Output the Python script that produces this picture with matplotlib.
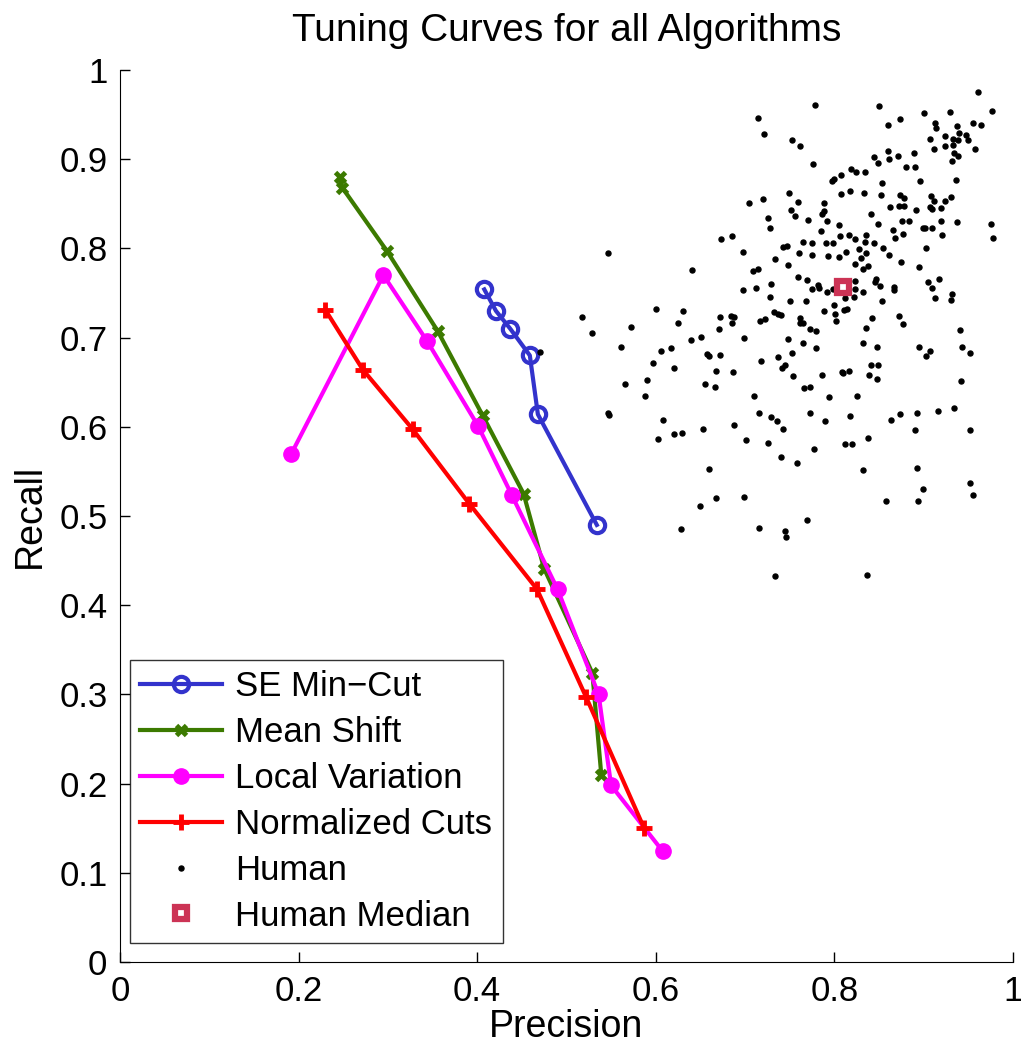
import matplotlib
matplotlib.use("Agg")
import matplotlib.pyplot as plt

plt.rcParams['font.family'] = ['Liberation Sans', 'DejaVu Sans']

# tuning curves (precision, recall)
se_prec = [0.408, 0.421, 0.437, 0.459, 0.468, 0.534]
se_rec = [0.754, 0.730, 0.710, 0.680, 0.614, 0.490]

ms_prec = [0.246, 0.249, 0.299, 0.356, 0.406, 0.452, 0.475, 0.529, 0.539]
ms_rec = [0.880, 0.868, 0.797, 0.707, 0.613, 0.525, 0.441, 0.324, 0.210]

lv_prec = [0.192, 0.295, 0.344, 0.401, 0.439, 0.490, 0.536, 0.550, 0.608]
lv_rec = [0.570, 0.770, 0.696, 0.601, 0.523, 0.418, 0.300, 0.198, 0.124]

nc_prec = [0.230, 0.272, 0.328, 0.391, 0.467, 0.522, 0.587]
nc_rec = [0.731, 0.664, 0.597, 0.514, 0.418, 0.297, 0.150]

median_prec = [0.810]
median_rec = [0.757]

# individual human segmentations
human_prec = [
    0.778, 0.714, 0.721, 0.753, 0.762, 0.776, 0.819, 0.824, 0.808, 0.797,
    0.800, 0.749, 0.808, 0.817, 0.704, 0.720, 0.759, 0.788, 0.751, 0.756,
    0.788, 0.786, 0.726, 0.771, 0.792, 0.728, 0.805, 0.785, 0.673, 0.685,
    0.806, 0.816, 0.823, 0.742, 0.747, 0.765, 0.775, 0.791, 0.799, 0.828,
    0.961, 0.850, 0.874, 0.860, 0.900, 0.929, 0.976, 0.913, 0.914, 0.937,
    0.955, 0.964, 0.940, 0.924, 0.933, 0.938, 0.948, 0.950, 0.907, 0.933,
    0.924, 0.912, 0.957, 0.860, 0.889, 0.934, 0.939, 0.844, 0.849, 0.861,
    0.871, 0.932, 0.834, 0.880, 0.890, 0.936, 0.853, 0.896, 0.833, 0.852,
    0.873, 0.878, 0.908, 0.931, 0.924, 0.912, 0.862, 0.872, 0.878, 0.891,
    0.907, 0.909, 0.920, 0.841, 0.849, 0.876, 0.884, 0.899, 0.902, 0.909,
    0.920, 0.937, 0.975, 0.866, 0.877, 0.868, 0.921, 0.978, 0.836, 0.834,
    0.844, 0.855, 0.903, 0.698, 0.760, 0.775, 0.793, 0.805, 0.813, 0.734,
    0.748, 0.823, 0.709, 0.714, 0.759, 0.769, 0.729, 0.712, 0.698, 0.775,
    0.782, 0.783, 0.792, 0.798, 0.823, 0.823, 0.822, 0.812, 0.728, 0.750,
    0.768, 0.800, 0.788, 0.811, 0.814, 0.801, 0.802, 0.732, 0.737, 0.740,
    0.672, 0.684, 0.688, 0.722, 0.717, 0.762, 0.761, 0.765, 0.685, 0.671,
    0.773, 0.780, 0.651, 0.699, 0.748, 0.765, 0.779, 0.657, 0.660, 0.672,
    0.737, 0.753, 0.718, 0.741, 0.745, 0.667, 0.687, 0.786, 0.754, 0.809,
    0.810, 0.816, 0.655, 0.666, 0.766, 0.773, 0.710, 0.794, 0.825, 0.836,
    0.861, 0.830, 0.875, 0.838, 0.832, 0.895, 0.847, 0.845, 0.851, 0.867,
    0.867, 0.832, 0.905, 0.917, 0.909, 0.913, 0.932, 0.931, 0.853, 0.872,
    0.877, 0.842, 0.835, 0.941, 0.832, 0.848, 0.895, 0.907, 0.903, 0.943,
    0.952, 0.841, 0.849, 0.839, 0.848, 0.942, 0.546, 0.641, 0.600, 0.630,
    0.517, 0.625, 0.529, 0.572, 0.640, 0.561, 0.606, 0.617, 0.597, 0.620,
    0.566, 0.590, 0.588, 0.546, 0.548, 0.608, 0.602, 0.621, 0.629, 0.653,
    0.650, 0.628, 0.716, 0.729, 0.736, 0.742, 0.688, 0.701, 0.726, 0.740,
    0.758, 0.773, 0.789, 0.777, 0.812, 0.820, 0.817, 0.660, 0.667, 0.699,
    0.769, 0.716, 0.745, 0.746, 0.733, 0.864, 0.874, 0.893, 0.916, 0.934,
    0.890, 0.952, 0.838, 0.832, 0.893, 0.952, 0.899, 0.955, 0.858, 0.894,
    0.837, 0.470,
]
human_rec = [
    0.961, 0.946, 0.928, 0.921, 0.915, 0.895, 0.889, 0.886, 0.882, 0.876,
    0.878, 0.862, 0.861, 0.864, 0.851, 0.855, 0.852, 0.851, 0.843, 0.836,
    0.842, 0.839, 0.834, 0.832, 0.831, 0.823, 0.826, 0.819, 0.811, 0.814,
    0.814, 0.815, 0.810, 0.802, 0.803, 0.807, 0.806, 0.806, 0.806, 0.799,
    0.975, 0.960, 0.945, 0.938, 0.952, 0.953, 0.954, 0.941, 0.935, 0.937,
    0.940, 0.938, 0.929, 0.926, 0.923, 0.922, 0.927, 0.922, 0.923, 0.916,
    0.915, 0.911, 0.911, 0.909, 0.907, 0.907, 0.904, 0.902, 0.896, 0.900,
    0.903, 0.898, 0.886, 0.891, 0.891, 0.877, 0.873, 0.875, 0.862, 0.860,
    0.860, 0.857, 0.859, 0.858, 0.853, 0.853, 0.846, 0.848, 0.848, 0.843,
    0.846, 0.844, 0.845, 0.839, 0.827, 0.831, 0.831, 0.823, 0.823, 0.823,
    0.831, 0.830, 0.827, 0.821, 0.816, 0.812, 0.815, 0.812, 0.815, 0.807,
    0.806, 0.800, 0.800, 0.796, 0.795, 0.793, 0.791, 0.790, 0.796, 0.788,
    0.781, 0.782, 0.775, 0.777, 0.768, 0.765, 0.760, 0.756, 0.753, 0.755,
    0.759, 0.756, 0.751, 0.754, 0.763, 0.755, 0.746, 0.744, 0.746, 0.741,
    0.741, 0.737, 0.730, 0.731, 0.732, 0.726, 0.719, 0.729, 0.726, 0.725,
    0.723, 0.724, 0.723, 0.721, 0.719, 0.722, 0.716, 0.716, 0.716, 0.710,
    0.710, 0.707, 0.701, 0.700, 0.698, 0.694, 0.688, 0.682, 0.679, 0.680,
    0.678, 0.683, 0.674, 0.666, 0.669, 0.663, 0.661, 0.658, 0.657, 0.661,
    0.660, 0.663, 0.648, 0.645, 0.644, 0.645, 0.634, 0.633, 0.634, 0.795,
    0.793, 0.789, 0.785, 0.780, 0.777, 0.779, 0.766, 0.762, 0.758, 0.757,
    0.753, 0.751, 0.762, 0.766, 0.756, 0.744, 0.749, 0.742, 0.741, 0.724,
    0.715, 0.722, 0.711, 0.709, 0.694, 0.689, 0.690, 0.685, 0.679, 0.690,
    0.683, 0.669, 0.669, 0.658, 0.654, 0.651, 0.795, 0.776, 0.732, 0.730,
    0.723, 0.716, 0.705, 0.712, 0.697, 0.689, 0.685, 0.688, 0.671, 0.666,
    0.648, 0.652, 0.634, 0.615, 0.613, 0.608, 0.586, 0.592, 0.593, 0.598,
    0.511, 0.485, 0.615, 0.611, 0.606, 0.598, 0.602, 0.585, 0.582, 0.566,
    0.559, 0.615, 0.606, 0.575, 0.581, 0.581, 0.612, 0.553, 0.520, 0.521,
    0.495, 0.486, 0.483, 0.476, 0.433, 0.608, 0.614, 0.616, 0.618, 0.621,
    0.596, 0.596, 0.587, 0.552, 0.554, 0.537, 0.530, 0.523, 0.517, 0.517,
    0.434, 0.684,
]

fig = plt.figure(figsize=(10.21, 10.49), dpi=100)
ax = fig.add_axes([0.1175, 0.0829, 0.8746, 0.8504])

ax.plot(se_prec, se_rec, color='#3333CC', lw=3, marker='o', ms=11,
        mfc='none', mew=3, label='SE Min\u2212Cut')
ax.plot(ms_prec, ms_rec, color='#3C7A00', lw=3, marker='x', ms=7,
        mew=3.5, label='Mean Shift')
ax.plot(lv_prec, lv_rec, color='#FF00FF', lw=3, marker='o', ms=11,
        label='Local Variation')
ax.plot(nc_prec, nc_rec, color='#FF0000', lw=3, marker='+', ms=11,
        mew=3.5, label='Normalized Cuts')
ax.plot(human_prec, human_rec, ls='none', marker='o', ms=3.6,
        color='black', label='Human')
ax.plot(median_prec, median_rec, ls='none', marker='s', ms=9, mew=4.5,
        mfc='white', mec='#CC3355', label='Human Median')

ax.set_xlim(0, 1)
ax.set_ylim(0, 1)
ax.set_xticks([0, 0.2, 0.4, 0.6, 0.8, 1])
ax.set_xticklabels(['0', '0.2', '0.4', '0.6', '0.8', '1'])
ax.set_yticks([i / 10 for i in range(11)])
ax.set_yticklabels(['0'] + ['0.%d' % i for i in range(1, 10)] + ['1'])
ax.tick_params(direction='in', length=7, width=1, labelsize=25, pad=9)
ax.spines['top'].set_visible(False)
ax.spines['right'].set_visible(False)

ax.set_xlabel('Precision', fontsize=27, labelpad=1)
ax.set_ylabel('Recall', fontsize=27, labelpad=8)
ax.set_title('Tuning Curves for all Algorithms', fontsize=28, pad=21)

leg = ax.legend(loc='lower left', bbox_to_anchor=(0.0112, 0.0213),
                borderaxespad=0, fontsize=25, frameon=True, fancybox=False,
                edgecolor='black', handlelength=2.36, handletextpad=0.37,
                borderpad=0.3, labelspacing=0.37, numpoints=1)
leg.get_frame().set_linewidth(1)

fig.savefig('out.png', dpi=100)
